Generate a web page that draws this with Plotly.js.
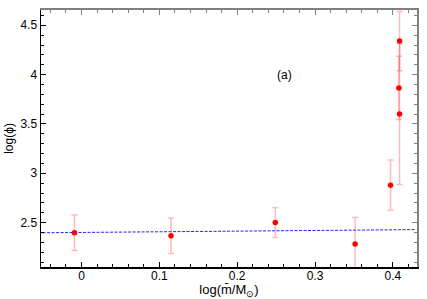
<!DOCTYPE html>
<html>
<head>
<meta charset="utf-8">
<script src="https://cdn.plot.ly/plotly-3.0.1.min.js"></script>
<style>html,body{margin:0;padding:0;background:#fff}#chart{width:427px;height:299px}</style>
</head>
<body>
<div id="chart"></div>
<script>
var logMass = [-0.009, 0.115, 0.249, 0.3515, 0.397, 0.4077, 0.4086, 0.4086];
var logPhi = [2.397, 2.367, 2.50, 2.282, 2.879, 3.865, 3.60, 4.34];
var phiErr = [0.18, 0.18, 0.15, 0.27, 0.255, 0.32, 0.715, 0.30];
var fitX = [-0.05, 0.43];
var fitY = [2.397, 2.429];
var xRange = [-0.052, 0.431];
var yRange = [2.05, 4.655];

var font = {family: 'Liberation Sans, Arial, sans-serif', size: 12, color: '#000'};
var titleFont = {family: 'Liberation Sans, Arial, sans-serif', size: 13, color: '#000'};

var traces = [
  {x: fitX, y: fitY, mode: 'lines', type: 'scatter',
   line: {color: '#2020ff', width: 1, dash: '3px,1.5px'}, hoverinfo: 'skip'},
  {x: logMass, y: logPhi, mode: 'markers', type: 'scatter',
   marker: {color: '#ff0000', size: 5.5},
   error_y: {type: 'data', array: phiErr, visible: true,
             color: 'rgba(255,60,60,0.35)', thickness: 1.5, width: 3}},
  {x: [], y: [], xaxis: 'x2', yaxis: 'y2', type: 'scatter', mode: 'markers'}
];

var layout = {
  width: 427, height: 299,
  margin: {l: 41, r: 10, t: 10, b: 32},
  paper_bgcolor: '#fff', plot_bgcolor: '#fff',
  showlegend: false,
  font: font,
  xaxis: {
    range: xRange, dtick: 0.1, tick0: 0,
    ticks: 'inside', ticklen: 5, tickcolor: '#000', tickwidth: 1,
    ticklabelstandoff: -3,
    minor: {dtick: 0.02, ticks: 'inside', ticklen: 3, tickcolor: '#000'},
    showline: true, linecolor: '#000', linewidth: 1.5,
    showgrid: false, zeroline: false,
    tickfont: font,
    title: {text: 'log(m\u0304/M<sub>\u2299</sub>)', font: titleFont, standoff: 0}
  },
  yaxis: {
    range: yRange, dtick: 0.5, tick0: 0,
    ticks: 'inside', ticklen: 5, tickcolor: '#000', tickwidth: 1,
    minor: {dtick: 0.1, ticks: 'inside', ticklen: 3, tickcolor: '#000'},
    showline: true, linecolor: '#000', linewidth: 1.5,
    showgrid: false, zeroline: false,
    tickfont: font,
    title: {text: 'log(\u03d5)', font: font, standoff: 4}
  },
  xaxis2: {
    overlaying: 'x', side: 'top', range: xRange, dtick: 0.1, tick0: 0,
    ticks: 'inside', ticklen: 5, tickcolor: '#808080',
    minor: {dtick: 0.02, ticks: 'inside', ticklen: 3, tickcolor: '#808080'},
    showline: true, linecolor: '#808080', linewidth: 2,
    showticklabels: false, showgrid: false, zeroline: false
  },
  yaxis2: {
    overlaying: 'y', side: 'right', range: yRange, dtick: 0.5, tick0: 0,
    ticks: 'inside', ticklen: 5, tickcolor: '#808080',
    minor: {dtick: 0.1, ticks: 'inside', ticklen: 3, tickcolor: '#808080'},
    showline: true, linecolor: '#808080', linewidth: 2,
    showticklabels: false, showgrid: false, zeroline: false
  },
  annotations: [
    {x: 0.261, y: 4.0, xref: 'x', yref: 'y', text: '(a)', showarrow: false, font: font}
  ]
};

Plotly.newPlot('chart', traces, layout, {staticPlot: true, displayModeBar: false});
</script>
</body>
</html>
